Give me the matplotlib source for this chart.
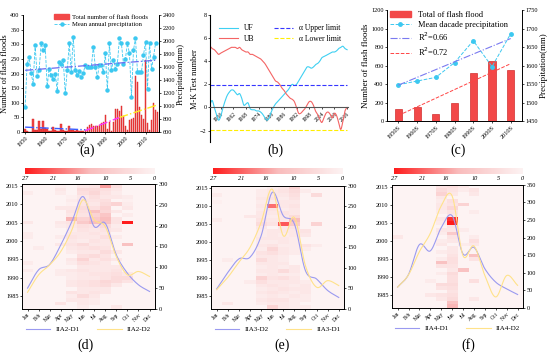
import numpy as np
import matplotlib
matplotlib.use('Agg')
import matplotlib.pyplot as plt
from matplotlib.colors import LinearSegmentedColormap
from matplotlib.patches import Patch
from matplotlib.lines import Line2D

plt.rcParams['font.family'] = ['Liberation Serif', 'DejaVu Serif']

# ---------------- (a) annual flash floods / precipitation ----------------
flood_years = list(range(1950, 2017))
flood_counts = [10, 3, 2, 1, 46, 8, 6, 37, 10, 37,
                14, 10, 5, 3, 19, 8, 4, 3, 26, 8,
                3, 4, 21, 6, 8, 3, 6, 5, 4, 3,
                7, 17, 24, 29, 20, 20, 22, 24, 30, 34,
                58, 12, 33, 5, 35, 79, 79, 72, 89, 55,
                20, 8, 40, 44, 47, 190, 172, 85, 57, 45,
                245, 30, 6, 40, 100, 74, 68]
precip_years = list(range(1950, 2016))
precip = [986, 1644, 1757, 1510, 1346, 1937, 1459, 1562, 1963, 1860,
          1937, 1305, 1577, 1474, 1420, 1500, 1233, 1680, 1654, 1716,
          1202, 1551, 1963, 1526, 2066, 1551, 1474, 1541, 1449, 1515,
          1629, 1603, 1600, 1603, 1911, 1603, 1449, 1629, 1629, 1526,
          1809, 1243, 1963, 1551, 1706, 1577, 1654, 2040, 1963, 1654,
          1731, 1963, 1809, 1140, 1860, 2040, 1526, 1526, 1530, 1783,
          1989, 1269, 1963, 1577, 1757, 1963]
trend_early_x, trend_early_y = [1950, 1980], [17, 8]
trend_mid_x, trend_mid_y = [1980, 1997], [5, 50]
trend_late_x, trend_late_y = [1997, 2016], [50, 93]
precip_trend_x, precip_trend_y = [1950, 2015], [1550, 1705]

# ---------------- (b) M-K test ----------------
mk_years = list(range(1951, 2017))
uf = [0.3, 0.6, 0.0, -0.6, -1.1, -0.8, -0.1, 0.5, 1.0, 1.3,
      1.5, 1.5, 1.3, 1.1, 1.2, 0.8, 0.2, 0.3, 0.4, -0.1,
      -0.2, -0.2, -0.3, -0.3, -0.4, -0.6, -0.9, -1.1, -0.9, -0.4,
      0.0, 0.3, 0.5, 0.7, 0.9, 1.1, 1.3, 1.5, 1.8, 2.0,
      1.9, 2.0, 2.3, 2.6, 2.9, 3.2, 3.5, 3.5, 3.4, 3.5,
      3.7, 3.8, 4.0, 4.3, 4.4, 4.5, 4.6, 4.7, 4.8, 4.8,
      4.9, 5.1, 5.2, 5.3, 5.1, 5.0]
ub = [5.3, 5.1, 5.0, 4.8, 4.6, 4.7, 4.8, 4.9, 5.0, 5.1,
      5.2, 5.2, 5.2, 5.1, 5.2, 5.0, 4.9, 4.8, 4.8, 4.6,
      4.6, 4.5, 4.4, 4.3, 4.2, 4.0, 3.8, 3.5, 3.2, 2.9,
      2.6, 2.3, 2.2, 2.0, 1.7, 1.5, 1.2, 1.0, 0.8, 0.7,
      0.5, 0.0, -0.5, -0.5, -0.3, -0.1, 0.2, 0.5, 0.5, 0.2,
      -0.3, -0.6, -1.0, -1.3, -0.9, -0.5, -0.4, -0.6, -0.9, -0.5,
      -0.7, -1.3, -1.9, -1.2, -0.3, 0.0]
mk_limit = 1.96
mk_ticks = list(range(1956, 2017, 6))

# ---------------- (c) decades ----------------
decades = ['1950S', '1960S', '1970S', '1980S', '1990S', '2000S', '2010S']
decade_floods = [125, 155, 75, 200, 515, 645, 550]
decade_precip = [1548, 1558, 1568, 1608, 1667, 1597, 1686]
decade_precip_trend = [1547, 1673]
decade_flood_trend = [60, 620]

# ---------------- (d)(e)(f) monthly heatmaps, rows 2015 -> 1982 ----------------
months = ['Jan', 'Feb', 'Mar', 'Apr', 'May', 'Jun', 'Jul', 'Aug', 'Sep', 'Oct', 'Nov', 'Dec']
heat_years = list(range(2015, 1981, -1))
heat_d = [
    [0, 0, 0, 1, 0, 3, 4, 16, 5, 0, 0, 0],
    [0, 0, 0, 3, 0, 6, 6, 5, 3, 0, 0, 0],
    [2, 0, 0, 2, 0, 5, 7, 4, 2, 0, 0, 0],
    [0, 0, 0, 0, 1, 3, 5, 3, 3, 2, 0, 0],
    [0, 0, 0, 0, 2, 4, 4, 5, 0, 1, 0, 0],
    [0, 0, 0, 0, 1, 4, 3, 6, 8, 2, 0, 0],
    [0, 0, 0, 3, 3, 6, 5, 8, 0, 3, 0, 0],
    [0, 0, 0, 0, 4, 5, 12, 7, 3, 0, 0, 0],
    [0, 0, 0, 0, 3, 4, 8, 11, 0, 2, 0, 0],
    [0, 0, 0, 0, 14, 8, 10, 13, 4, 0, 0, 0],
    [3, 0, 0, 3, 4, 10, 13, 12, 4, 27, 0, 0],
    [0, 0, 0, 2, 3, 5, 4, 6, 2, 0, 0, 0],
    [0, 0, 0, 0, 2, 4, 3, 4, 3, 0, 0, 0],
    [2, 0, 0, 0, 3, 3, 4, 3, 0, 0, 0, 0],
    [2, 0, 0, 2, 4, 3, 3, 5, 2, 0, 0, 0],
    [0, 0, 0, 0, 3, 2, 4, 3, 0, 0, 0, 0],
    [0, 0, 0, 3, 4, 6, 3, 3, 0, 12, 0, 0],
    [0, 2, 0, 0, 3, 4, 5, 4, 0, 0, 0, 0],
    [0, 0, 0, 0, 2, 3, 3, 6, 3, 0, 0, 0],
    [0, 0, 0, 0, 0, 5, 6, 4, 0, 0, 0, 0],
    [0, 0, 0, 0, 3, 8, 3, 5, 3, 0, 0, 0],
    [2, 0, 0, 0, 2, 5, 4, 3, 0, 0, 0, 0],
    [0, 0, 0, 0, 0, 3, 3, 3, 3, 0, 0, 0],
    [2, 0, 0, 2, 3, 4, 3, 3, 4, 0, 0, 0],
    [0, 0, 0, 2, 2, 3, 4, 4, 5, 3, 0, 0],
    [0, 0, 0, 0, 2, 3, 3, 4, 6, 6, 0, 0],
    [0, 0, 0, 0, 3, 4, 5, 7, 6, 4, 0, 0],
    [0, 0, 0, 0, 3, 4, 5, 6, 3, 0, 0, 0],
    [0, 0, 0, 0, 0, 3, 3, 3, 0, 0, 0, 0],
    [0, 0, 0, 0, 4, 3, 4, 3, 0, 0, 0, 0],
    [0, 0, 0, 0, 2, 6, 3, 0, 0, 0, 0, 0],
    [0, 0, 0, 0, 3, 3, 2, 0, 0, 0, 0, 0],
    [0, 0, 0, 4, 0, 3, 2, 0, 0, 0, 0, 0],
    [0, 0, 0, 0, 0, 2, 0, 0, 3, 0, 0, 0],
]
heat_e = [
    [0, 0, 0, 0, 0, 2, 3, 8, 0, 0, 0, 0],
    [0, 0, 0, 0, 2, 3, 4, 6, 2, 0, 0, 0],
    [2, 0, 0, 0, 2, 3, 3, 5, 0, 6, 0, 0],
    [0, 0, 0, 0, 3, 4, 2, 4, 0, 0, 0, 0],
    [1, 0, 0, 0, 2, 2, 3, 3, 0, 0, 0, 0],
    [0, 0, 0, 0, 3, 20, 3, 4, 0, 0, 0, 0],
    [0, 0, 0, 0, 2, 4, 2, 3, 0, 0, 0, 0],
    [0, 0, 0, 0, 3, 3, 4, 3, 0, 0, 0, 0],
    [0, 0, 0, 3, 3, 2, 3, 6, 0, 0, 0, 0],
    [2, 0, 0, 0, 4, 3, 3, 13, 0, 0, 0, 0],
    [0, 0, 0, 0, 6, 4, 22, 10, 0, 8, 0, 0],
    [0, 0, 0, 0, 3, 0, 3, 4, 0, 0, 0, 0],
    [0, 0, 0, 0, 2, 3, 3, 3, 4, 0, 0, 0],
    [0, 0, 0, 0, 2, 3, 2, 3, 3, 0, 0, 0],
    [0, 0, 0, 0, 3, 3, 3, 2, 0, 0, 0, 0],
    [0, 0, 0, 0, 2, 2, 3, 2, 0, 0, 0, 0],
    [0, 0, 0, 0, 3, 4, 2, 2, 4, 2, 0, 0],
    [0, 0, 0, 0, 2, 7, 3, 2, 2, 0, 0, 0],
    [0, 0, 0, 0, 4, 5, 3, 2, 0, 0, 0, 0],
    [0, 0, 0, 0, 3, 3, 2, 0, 0, 0, 0, 0],
    [0, 2, 0, 0, 6, 3, 2, 0, 0, 0, 0, 0],
    [0, 0, 0, 0, 3, 3, 3, 0, 0, 0, 0, 0],
    [0, 0, 0, 0, 2, 3, 2, 3, 0, 0, 0, 0],
    [0, 0, 0, 0, 3, 3, 6, 3, 0, 0, 0, 0],
    [0, 0, 0, 0, 2, 3, 2, 2, 0, 0, 0, 0],
    [0, 0, 0, 0, 8, 4, 5, 3, 0, 0, 0, 0],
    [0, 0, 0, 2, 5, 3, 3, 3, 2, 0, 0, 0],
    [0, 0, 0, 0, 3, 4, 3, 2, 3, 0, 0, 0],
    [0, 0, 0, 0, 2, 3, 4, 3, 3, 0, 0, 0],
    [0, 0, 0, 0, 3, 4, 3, 2, 3, 0, 0, 0],
    [0, 0, 0, 0, 2, 3, 2, 3, 2, 0, 0, 0],
    [0, 0, 0, 0, 3, 4, 4, 2, 2, 0, 0, 0],
    [0, 3, 0, 0, 2, 3, 3, 2, 0, 0, 0, 0],
    [0, 0, 0, 0, 0, 8, 3, 2, 2, 0, 0, 0],
]
heat_f = [
    [0, 0, 0, 0, 4, 5, 3, 0, 0, 0, 0, 0],
    [0, 0, 0, 0, 6, 4, 2, 4, 0, 0, 0, 0],
    [0, 0, 0, 0, 8, 3, 0, 3, 0, 0, 0, 0],
    [0, 0, 0, 0, 3, 0, 0, 0, 0, 0, 0, 0],
    [0, 0, 0, 0, 2, 5, 0, 0, 0, 0, 0, 0],
    [0, 0, 0, 0, 3, 4, 8, 0, 0, 0, 0, 0],
    [0, 0, 0, 0, 3, 7, 0, 0, 0, 0, 0, 0],
    [0, 0, 0, 0, 2, 4, 0, 2, 0, 0, 0, 0],
    [0, 0, 0, 0, 0, 3, 0, 0, 0, 0, 0, 0],
    [0, 0, 0, 0, 3, 25, 0, 0, 0, 0, 0, 0],
    [0, 0, 0, 0, 2, 27, 0, 0, 0, 0, 0, 0],
    [0, 0, 0, 0, 0, 4, 0, 0, 0, 0, 0, 0],
    [0, 0, 0, 0, 3, 3, 2, 0, 0, 0, 0, 0],
    [0, 0, 0, 0, 2, 10, 0, 0, 0, 0, 0, 0],
    [3, 0, 0, 0, 0, 4, 0, 2, 0, 0, 0, 0],
    [0, 0, 0, 0, 2, 3, 0, 5, 0, 0, 0, 0],
    [0, 0, 0, 0, 3, 0, 2, 3, 0, 0, 0, 0],
    [0, 0, 0, 0, 0, 3, 0, 0, 0, 0, 0, 0],
    [0, 0, 0, 0, 2, 3, 0, 0, 0, 0, 0, 0],
    [0, 0, 0, 0, 0, 4, 0, 12, 0, 0, 0, 0],
    [0, 0, 0, 0, 2, 5, 0, 4, 0, 0, 0, 0],
    [0, 0, 0, 0, 12, 5, 0, 0, 0, 0, 0, 0],
    [0, 0, 0, 0, 4, 4, 0, 0, 0, 0, 0, 0],
    [0, 0, 0, 0, 0, 3, 12, 0, 0, 0, 0, 0],
    [0, 0, 0, 0, 2, 6, 0, 0, 0, 0, 0, 0],
    [0, 0, 0, 0, 0, 5, 0, 0, 0, 0, 0, 0],
    [0, 0, 0, 2, 0, 5, 0, 5, 0, 0, 0, 0],
    [0, 0, 0, 0, 6, 6, 0, 0, 0, 0, 0, 0],
    [0, 0, 0, 0, 4, 5, 0, 0, 0, 0, 0, 0],
    [0, 0, 0, 0, 0, 4, 0, 0, 0, 0, 0, 0],
    [0, 0, 0, 3, 4, 5, 0, 0, 0, 0, 0, 0],
    [0, 0, 0, 0, 3, 6, 0, 3, 0, 0, 0, 0],
    [0, 0, 0, 0, 0, 12, 0, 0, 0, 0, 0, 0],
    [0, 0, 0, 0, 0, 14, 0, 0, 0, 0, 0, 0],
]
# monthly precipitation curves (right axis)
d_d1 = [50, 94, 107, 154, 210, 270, 198, 206, 130, 86, 58, 42]
d_d2 = [40, 82, 106, 138, 190, 262, 214, 198, 126, 82, 90, 78]
e_d2 = [49, 89, 122, 126, 178, 284, 227, 207, 93, 73, 45, 28]
e_d1 = [47, 77, 114, 150, 211, 292, 178, 223, 105, 53, 69, 57]
f_d1 = [59, 95, 180, 162, 228, 262, 153, 172, 111, 73, 54, 38]
f_d2 = [59, 94, 160, 212, 290, 318, 148, 176, 92, 31, 92, 64]
cbar_ticks = [27, 21, 16, 10, 5, 0]

RED = '#f24848'
CYAN = '#3cc8f0'
PURPLE = '#9a9af0'
YELLOW = '#ffe28a'
flood_cmap = LinearSegmentedColormap.from_list('flood', ['#fdf3f3', '#f9bcbc', '#ff1c1c'])


def smooth(xs, ys, steps=12):
    # Catmull-Rom curve through the points (drawing style only)
    xs = np.asarray(xs, float)
    ys = np.asarray(ys, float)
    px = np.concatenate([[2 * xs[0] - xs[1]], xs, [2 * xs[-1] - xs[-2]]])
    py = np.concatenate([[2 * ys[0] - ys[1]], ys, [2 * ys[-1] - ys[-2]]])
    t = np.linspace(0, 1, steps, endpoint=False)
    ox, oy = [], []
    for i in range(1, len(px) - 2):
        for p, out in ((px, ox), (py, oy)):
            p0, p1, p2, p3 = p[i - 1], p[i], p[i + 1], p[i + 2]
            out.append(0.5 * (2 * p1 + (-p0 + p2) * t + (2 * p0 - 5 * p1 + 4 * p2 - p3) * t ** 2
                              + (-p0 + 3 * p1 - 3 * p2 + p3) * t ** 3))
    return np.concatenate(ox + [[xs[-1]]]), np.concatenate(oy + [[ys[-1]]])


fig = plt.figure(figsize=(5.5, 3.58), dpi=100)

# ---------------- (a) ----------------
axa = fig.add_axes([0.042, 0.631, 0.247, 0.327])
axa.bar(flood_years, flood_counts, width=0.8, color=RED, edgecolor='#d41c1c', linewidth=0.3)
axa.plot(trend_early_x, trend_early_y, '-.', color='#3a5cff', lw=1.0)
axa.plot(trend_mid_x, trend_mid_y, '-.', color='#ff33ff', lw=1.0)
axa.plot(trend_late_x, trend_late_y, '-.', color='#ffee22', lw=1.0)
axa.set_ylim(0, 400)
axa.set_xlim(1949, 2016.7)
axa.set_yticks(range(0, 401, 50))
axa.set_xticks(range(1950, 2011, 10))
axa.set_ylabel('Number of flash floods', fontsize=6, labelpad=1)
axa.tick_params(labelsize=4.5, length=1.5, pad=1, width=0.5)
plt.setp(axa.get_xticklabels(), rotation=45, ha='right', rotation_mode='anchor')
axa2 = axa.twinx()
axa2.plot(precip_years, precip, '--', color=CYAN, lw=0.6, marker='o', ms=2.2)
axa2.plot(precip_trend_x, precip_trend_y, '-.', color='#6a6af0', lw=0.9)
axa2.set_ylim(600, 2400)
axa2.set_yticks(range(600, 2401, 200))
axa2.set_ylabel('Precipitation(mm)', fontsize=6, labelpad=1)
axa2.tick_params(labelsize=4.5, length=1.5, pad=1, width=0.5)
for a in (axa, axa2):
    a.spines['top'].set_visible(False)
    for s in a.spines.values():
        s.set_linewidth(0.6)
axa2.legend([Patch(color=RED), Line2D([], [], ls='--', color=CYAN, marker='o', ms=2.2, lw=0.6)],
            ['Total number of flash floods', 'Mean annual precipitation'],
            loc='upper left', bbox_to_anchor=(0.2, 1.04), frameon=False, fontsize=4.8,
            handlelength=2.2, handletextpad=0.5, labelspacing=0.25, borderaxespad=0.2)

# ---------------- (b) ----------------
axb = fig.add_axes([0.382, 0.603, 0.251, 0.355])
sx, sy = smooth(mk_years, uf, 6)
axb.plot(sx, sy, color='#3fd0f2', lw=0.8, label='UF')
sx, sy = smooth(mk_years, ub, 6)
axb.plot(sx, sy, color='#f46464', lw=0.8, label='UB')
axb.plot([mk_years[0], mk_years[-1]], [mk_limit, mk_limit], '--', color='#3636ff', lw=0.8,
         label='\u03b1 Upper limit')
axb.plot([mk_years[0], mk_years[-1]], [-mk_limit, -mk_limit], '--', color='#ffee00', lw=0.8,
         label='\u03b1 Lower limit')
axb.set_xlim(1951, 2016.5)
axb.set_ylim(-3, 8)
axb.set_yticks([-2, 0, 2, 4, 6, 8])
axb.set_xticks(mk_ticks)
axb.spines['right'].set_visible(False)
axb.spines['top'].set_visible(False)
axb.spines['bottom'].set_position(('data', 0))
axb.spines['bottom'].set_color('#555555')
axb.spines['left'].set_linewidth(0.8)
axb.set_ylabel('M-K Test number', fontsize=6, labelpad=1)
axb.tick_params(labelsize=4.5, length=1.5, pad=1, width=0.5)
plt.setp(axb.get_xticklabels(), rotation=45, ha='right', rotation_mode='anchor', fontsize=4)
axb.legend(ncol=2, loc='upper right', bbox_to_anchor=(1.0, 0.98), frameon=False, fontsize=5.5,
           handlelength=2.5, columnspacing=2.5, labelspacing=0.3)

# ---------------- (c) ----------------
axc = fig.add_axes([0.704, 0.662, 0.245, 0.31])
xpos = np.arange(len(decades))
axc.bar(xpos, decade_floods, width=0.38, color=RED, edgecolor='#c81010', linewidth=0.4)
axc.plot([xpos[0], xpos[-1]], decade_flood_trend, '--', color='#ff4444', lw=0.7)
axc.set_ylim(0, 1200)
axc.set_xlim(-0.6, 6.6)
axc.set_xticks(xpos)
axc.set_xticklabels(decades)
axc.set_yticks(range(0, 1201, 200))
axc.set_ylabel('Number of flash floods', fontsize=6.5, labelpad=1)
axc.tick_params(labelsize=4.5, length=1.5, pad=1, width=0.5)
plt.setp(axc.get_xticklabels(), rotation=45, ha='right', rotation_mode='anchor')
axc2 = axc.twinx()
axc2.plot(xpos, decade_precip, '--', color=CYAN, lw=0.7, marker='o', ms=2.5)
axc2.plot([xpos[0], xpos[-1]], decade_precip_trend, '-.', color='#7a7af0', lw=0.8)
axc2.set_ylim(1450, 1750)
axc2.set_yticks(range(1450, 1751, 50))
axc2.set_ylabel('Precipitation(mm)', fontsize=6.5, labelpad=1)
axc2.tick_params(labelsize=4.5, length=1.5, pad=1, width=0.5)
for a in (axc, axc2):
    a.spines['top'].set_visible(False)
    for s in a.spines.values():
        s.set_linewidth(0.6)
axc2.legend([Patch(color=RED), Line2D([], [], ls='--', color=CYAN, marker='o', ms=2.5, lw=0.7),
             Line2D([], [], ls='-.', color='#7a7af0', lw=0.8), Line2D([], [], ls='--', color='#ff4444', lw=0.7)],
            ['Total of flash flood', 'Mean dacade precipitation', 'R$^2$=0.66', 'R$^2$=0.72'],
            loc='upper left', bbox_to_anchor=(-0.02, 1.04), frameon=False, fontsize=6,
            handlelength=2.6, labelspacing=0.25, borderaxespad=0.2)


# ---------------- (d)(e)(f) ----------------
def heat_panel(rect, cb_rect, grid, purple, yellow, names, ymax):
    ax = fig.add_axes(rect)
    arr = np.array(grid)[::-1]
    month_edges = np.arange(0.5, 13.0, 1.0)
    year_edges = np.arange(heat_years[-1] - 0.5, heat_years[0] + 1.0, 1.0)
    ax.pcolormesh(month_edges, year_edges, arr, cmap=flood_cmap, vmin=0, vmax=27)
    ax.set_xlim(0.5, 12.5)
    ax.set_ylim(year_edges[0], year_edges[-1])
    ax.set_xticks(range(1, 13))
    ax.set_xticklabels(months)
    ax.set_yticks(range(1985, 2016, 5))
    ax.tick_params(labelsize=4.5, length=1.5, pad=1, width=0.5)
    plt.setp(ax.get_xticklabels(), rotation=45, ha='right', rotation_mode='anchor', fontsize=4)
    axr = ax.twinx()
    sx, sy = smooth(range(1, 13), purple)
    axr.plot(sx, sy, color=PURPLE, lw=0.8)
    sx, sy = smooth(range(1, 13), yellow)
    axr.plot(sx, sy, color=YELLOW, lw=0.8)
    axr.set_ylim(0, ymax)
    axr.set_yticks(range(0, ymax + 1, 50))
    axr.tick_params(labelsize=4.5, length=1.5, pad=1, width=0.5)
    for a in (ax, axr):
        for s in a.spines.values():
            s.set_linewidth(0.6)
    ax.legend([Line2D([], [], color=PURPLE, lw=0.8), Line2D([], [], color=YELLOW, lw=0.8)], names,
              ncol=2, loc='upper center', bbox_to_anchor=(0.5, -0.09), frameon=False, fontsize=5,
              handlelength=3.5, columnspacing=2.5)
    cax = fig.add_axes(cb_rect)
    cax.imshow(np.linspace(27, 0, 256)[None, :], cmap=flood_cmap, vmin=0, vmax=27,
               aspect='auto', extent=[27, 0, 0, 1])
    cax.set_xticks(cbar_ticks)
    cax.set_yticks([])
    cax.tick_params(length=0, labelsize=4.5, pad=1.5)
    for lbl in cax.get_xticklabels():
        lbl.set_style('italic')
    for s in cax.spines.values():
        s.set_visible(False)


heat_panel([0.040, 0.137, 0.242, 0.349], [0.045, 0.514, 0.235, 0.017], heat_d, d_d1, d_d2,
           ['IIA2-D1', 'IIA2-D2'], 300)
heat_panel([0.384, 0.137, 0.242, 0.344], [0.387, 0.514, 0.235, 0.017], heat_e, e_d2, e_d1,
           ['IIA3-D2', 'IIA3-D1'], 300)
heat_panel([0.713, 0.140, 0.238, 0.344], [0.716, 0.514, 0.233, 0.017], heat_f, f_d1, f_d2,
           ['IIA4-D1', 'IIA4-D2'], 350)

for lbl, x, y in [('(a)', 0.158, 0.58), ('(b)', 0.5, 0.58), ('(c)', 0.833, 0.58),
                  ('(d)', 0.155, 0.035), ('(e)', 0.513, 0.035), ('(f)', 0.851, 0.035)]:
    fig.text(x, y, lbl, fontsize=10, ha='center', va='center')

fig.savefig('out.png', dpi=100)
